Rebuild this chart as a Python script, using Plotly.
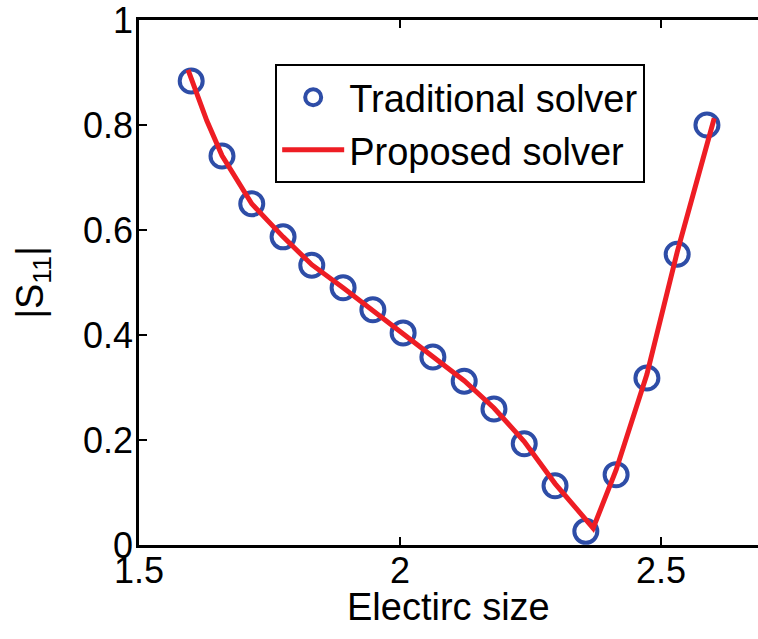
import plotly.graph_objects as go

# Traditional solver (circles)
trad_x = [1.600, 1.659, 1.716, 1.776, 1.831, 1.891, 1.948, 2.006, 2.063,
          2.123, 2.180, 2.238, 2.297, 2.356, 2.414, 2.473, 2.531, 2.588]
trad_y = [0.884, 0.741, 0.650, 0.587, 0.533, 0.490, 0.448, 0.404, 0.358,
          0.312, 0.259, 0.193, 0.113, 0.026, 0.134, 0.318, 0.554, 0.800]

# Proposed solver (line)
prop_x = [1.594, 1.630, 1.659, 1.716, 1.776, 1.831, 1.891, 1.948, 2.006, 2.063,
          2.123, 2.180, 2.238, 2.297, 2.370, 2.414, 2.473, 2.531, 2.602]
prop_y = [0.905, 0.808, 0.742, 0.650, 0.587, 0.534, 0.490, 0.447, 0.404, 0.360,
          0.313, 0.261, 0.197, 0.117, 0.032, 0.143, 0.325, 0.558, 0.813]

x_ticks = [1.5, 2, 2.5]
x_tick_labels = ["1.5", "2", "2.5"]
y_ticks = [0, 0.2, 0.4, 0.6, 0.8, 1]
y_tick_labels = ["0", "0.2", "0.4", "0.6", "0.8", "1"]
x_title = "Electirc size"
y_title = "|S<sub>11</sub>|"

FONT = "Liberation Sans, Arial, sans-serif"

fig = go.Figure()
fig.add_trace(go.Scatter(
    x=trad_x, y=trad_y, mode="markers", name="Traditional solver",
    marker=dict(symbol="circle-open", size=23, color="#2E4DA7",
                line=dict(width=4, color="#2E4DA7")),
))
fig.add_trace(go.Scatter(
    x=prop_x, y=prop_y, mode="lines", name="Proposed solver",
    line=dict(color="#EE1D24", width=5),
))

fig.add_annotation(
    text=x_title, xref="paper", yref="paper", x=0.5, y=-0.118,
    xanchor="center", yanchor="middle", showarrow=False,
    font=dict(family=FONT, size=38, color="black"),
)

fig.update_layout(
    width=758, height=639,
    margin=dict(l=139, r=0, t=20, b=94),
    paper_bgcolor="white", plot_bgcolor="white",
    font=dict(family=FONT, size=36, color="black"),
    showlegend=True,
    legend=dict(
        x=0.22, y=0.916, xanchor="left", yanchor="top",
        bgcolor="white", bordercolor="black", borderwidth=2,
        font=dict(family=FONT, size=38, color="black"),
        itemwidth=62, tracegroupgap=0,
    ),
    xaxis=dict(
        range=[1.5, 1.5 + (758 - 139) / 522],
        tickvals=x_ticks, ticktext=x_tick_labels,
        ticks="inside", ticklen=8, tickwidth=2, tickcolor="black",
        showline=True, linecolor="black", linewidth=2.5, mirror="ticks",
        showgrid=False, zeroline=False,
        tickfont=dict(size=36), ticklabelstandoff=-8,
    ),
    yaxis=dict(
        range=[0, 1.0001],
        tickvals=y_ticks, ticktext=y_tick_labels,
        ticks="inside", ticklen=8, tickwidth=2, tickcolor="black",
        showline=True, linecolor="black", linewidth=2.5, mirror=False,
        showgrid=False, zeroline=False,
        tickfont=dict(size=36), ticklabelstandoff=-4,
        ticklabeloverflow="allow",
        title=dict(text=y_title, font=dict(size=38), standoff=28),
    ),
)

fig.write_html("out.html")
